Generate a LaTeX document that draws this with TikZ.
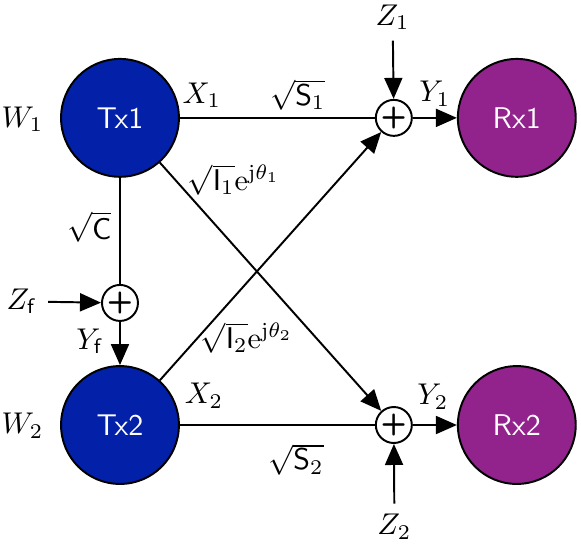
\documentclass[tikz,border=0pt]{standalone}
\usepackage{amsmath}
\usepackage{amssymb}
\usepackage{tikz}
\usetikzlibrary{arrows.meta}
\definecolor{txblue}{RGB}{2,32,168}
\definecolor{rxpurple}{RGB}{146,35,141}
\newcommand*{\directgain}[1]{\ensuremath{\sqrt{\mathsf{S}_{#1}}}}
\newcommand*{\crossgain}[1]{\ensuremath{\sqrt{\mathsf{I}_{#1}}\mathrm{e}^{\mathrm{j}\theta_{#1}}}}
\newcommand*{\adder}{\textsf{\textbf{+}}}

\begin{document}
\begin{tikzpicture}[line width=0.65pt, >={Triangle[length=7pt,width=6pt]}]
        \useasboundingbox (0,0) rectangle (193.7pt,-181.3pt);

        {\tikzstyle{every node}=[circle, draw, line width=0.65pt, minimum size=39.3pt, text=white, font=\sffamily]
          \foreach \i/\y in {1/-39.3pt, 2/-141.7pt}
          {
            \node [fill=txblue] (tx\i) at (40pt, \y) {Tx\i};
            \node [fill=rxpurple] (rx\i) at (172.3pt, \y) {Rx\i};
          }
        }

        {\tikzstyle{every node}=[circle, draw, line width=0.65pt, inner sep=0pt, minimum size=12pt]
          \foreach \i/\y in {1/-39.3pt, 2/-141.7pt}
          {
            \node (sum\i) at (131.3pt, \y) {\adder};
          }
          \node (sumf) at (40pt, -101pt) {\adder};
        }

        \node (w1) at (7.5pt, -39.7pt) {$W_1$};
        \node (w2) at (7.5pt, -142pt) {$W_2$};
        \node (x1) at (67.3pt, -31.7pt) {$X_1$};
        \node (x2) at (68pt, -132pt) {$X_2$};
        \node (y1) at (145pt, -31.3pt) {$Y_1$};
        \node (y2) at (144.3pt, -132.3pt) {$Y_2$};
        \node (z1) at (130.9pt, -5.7pt) {$Z_1$};
        \node (z2) at (131.5pt, -175.7pt) {$Z_2$};
        \node (zf) at (7.3pt, -100.5pt) {$Z_{\mathsf{f}}$};
        \node (yf) at (30pt, -113.7pt) {$Y_{\mathsf{f}}$};
        \node (s1) at (99.3pt, -31.7pt) {\directgain{1}};
        \node (s2) at (98.7pt, -153.3pt) {\directgain{2}};
        \node (i1) at (78pt, -60pt) {\crossgain{1}};
        \node (i2) at (82.3pt, -112.7pt) {\crossgain{2}};
        \node (c) at (29.7pt, -75.7pt) {$\sqrt{\mathsf{C}}$};

        \draw
          (tx1) -- (sum1)
          (tx2) -- (sum2)
          (tx1) -- (sumf);

        \draw [->] (tx1) -- (sum2);
        \draw [->] (tx2) -- (sum1);
        \draw [->] (sumf) -- (tx2);
        \draw [->] (zf) -- (sumf);

        \foreach \i in {1, 2}
        {
          \draw [->] (sum\i) -- (rx\i);
          \draw [->] (z\i) -- (sum\i);
        }
      \end{tikzpicture}
\end{document}
